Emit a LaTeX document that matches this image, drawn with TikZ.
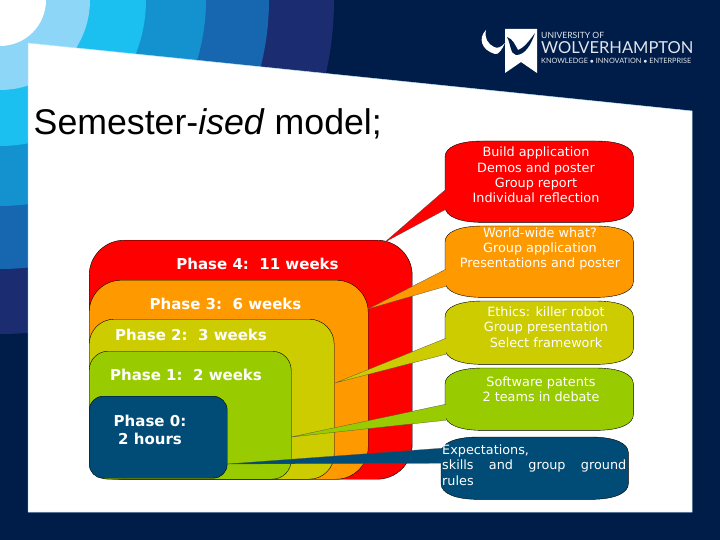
\documentclass[tikz,border=0pt]{standalone}
\usepackage{fontspec}
\setmainfont{Liberation Sans}
\newfontfamily\notefont{DejaVu Sans}
\newfontfamily\logofont{Lato}
\usepackage{tikz}
\definecolor{bgnavy}{RGB}{0, 28, 72}
\definecolor{arcone}{RGB}{141, 214, 247}
\definecolor{arctwo}{RGB}{27, 191, 240}
\definecolor{arcthree}{RGB}{20, 146, 208}
\definecolor{arcfour}{RGB}{22, 102, 176}
\definecolor{arcfive}{RGB}{28, 44, 112}
\definecolor{phasered}{RGB}{255, 0, 0}
\definecolor{phaseorange}{RGB}{255, 153, 0}
\definecolor{phaseolive}{RGB}{204, 204, 0}
\definecolor{phasegreen}{RGB}{153, 204, 0}
\definecolor{phasenavy}{RGB}{0, 76, 118}
\definecolor{logogrey}{RGB}{225, 230, 238}
\tikzset{
  phasebox/.style={draw=black, line width=0.4pt, anchor=north west, inner sep=0pt},
  phaselabel/.style={text=white, align=center, font=\notefont\bfseries\fontsize{15}{18}\selectfont},
  notebox/.style={inner sep=0pt, anchor=north west, minimum width=188pt},
  noteedge/.style={draw=black, line width=0.4pt},
  tailedge/.style={draw=black!70, line width=0.25pt},
  notetext/.style={text=white, align=center, font=\notefont\fontsize{12.8}{15.4}\selectfont},
}
\newcommand{\noteoutline}[2]{%
  \draw[noteedge, fill=#2] ([yshift=-16pt]#1.north west) .. controls ([yshift=-6pt]#1.north west) and ([xshift=14pt]#1.north west) .. ([xshift=38pt]#1.north west)
    -- ([xshift=-38pt]#1.north east) .. controls ([xshift=-14pt]#1.north east) and ([yshift=-6pt]#1.north east) .. ([yshift=-16pt]#1.north east)
    -- ([yshift=16pt]#1.south east) .. controls ([yshift=6pt]#1.south east) and ([xshift=-14pt]#1.south east) .. ([xshift=-38pt]#1.south east)
    -- ([xshift=38pt]#1.south west) .. controls ([xshift=14pt]#1.south west) and ([yshift=6pt]#1.south west) .. ([yshift=16pt]#1.south west) -- cycle;}
\begin{document}
\begin{tikzpicture}[x=1pt, y=-1pt]
  \useasboundingbox (0,0) rectangle (720,540);
  \clip (0,0) rectangle (720,540);
  % Background
  \fill[bgnavy] (0,0) rectangle (720,540);
  \fill[arcfive] (0,0) circle (334);
  \fill[arcfour] (0,0) circle (269);
  \fill[arcthree] (0,0) circle (206);
  \fill[arctwo] (0,0) circle (146);
  \fill[arcone] (0,0) circle (90);
  \fill[white] (0,0) circle (46);
  \fill[white, draw=arcone!60, line width=0.5pt] (28,43) -- (692,111) -- (692,512) -- (28,512) -- cycle;

  % Logo
  \fill[white] (505,29) -- (537,29) -- (537,73) -- (521,62) -- (505,73) -- cycle;
  \fill[bgnavy] (507,37) .. controls (513,39) and (515,45) .. (518,50) .. controls (524,48) and (530,40) .. (535,33) .. controls (531,45) and (525,55) .. (516,55) .. controls (510,54) and (511,44) .. (507,37) -- cycle;
  \fill[white] (486,30) .. controls (478,38) and (481,50) .. (495,54) .. controls (499,55) and (502,49) .. (505,43) .. controls (501,47) and (498,49) .. (494,47) .. controls (488,44) and (484,38) .. (486,30) -- cycle;
  \node[anchor=west, inner sep=0pt, text=logogrey, font=\logofont\fontsize{8.6}{9}\selectfont] (logotop) at (541,35) {UNIVERSITY OF};
  \node[anchor=west, inner sep=0pt, text=logogrey, font=\logofont\fontsize{16.5}{17}\selectfont] (logoname) at (541,48) {WOLVERHAMPTON};
  \node[anchor=west, inner sep=0pt, text=logogrey, font=\logofont\fontsize{7.3}{8}\selectfont] (logomotto) at (541,60.5) {KNOWLEDGE $\bullet$ INNOVATION $\bullet$ ENTERPRISE};

  % Title
  \node[anchor=base west, inner sep=0pt, font=\fontsize{35.7}{36}\selectfont] (title) at (33.5,135) {Semester-\textit{ised} model;};

  % Nested phases
  \node[phasebox, fill=phasered, rounded corners=35pt, minimum width=323pt, minimum height=239pt] (phase4) at (89,240) {};
  \node[phasebox, fill=phaseorange, rounded corners=32pt, minimum width=279pt, minimum height=199pt] (phase3) at (89,280) {};
  \node[phasebox, fill=phaseolive, rounded corners=25pt, minimum width=245pt, minimum height=160pt] (phase2) at (89,319) {};
  \node[phasebox, fill=phasegreen, rounded corners=19pt, minimum width=202pt, minimum height=128pt] (phase1) at (89,351) {};
  \node[phasebox, fill=phasenavy, rounded corners=14pt, minimum width=138pt, minimum height=82pt] (phase0) at (89,396) {};
  \node[phaselabel] (label4) at (257.5,264) {Phase 4:\ \ 11 weeks};
  \node[phaselabel] (label3) at (225.5,303.5) {Phase 3:\ \ 6 weeks};
  \node[phaselabel] (label2) at (191,335) {Phase 2:\ \ 3 weeks};
  \node[phaselabel] (label1) at (186,375) {Phase 1:\ \ 2 weeks};
  \node[phaselabel] (label0) at (150,430) {Phase 0:\\2 hours};

  % Notes
  \node[notebox, minimum height=81pt] (note4) at (445,141) {};
  \node[notebox, minimum height=71pt] (note3) at (445,226) {};
  \node[notebox, minimum height=63pt] (note2) at (445,301) {};
  \node[notebox, minimum height=62pt] (note1) at (445,368) {};
  \node[notebox, minimum width=187pt, minimum height=62pt] (note0) at (441,437) {};
  \noteoutline{note4}{phasered}
  \noteoutline{note3}{phaseorange}
  \noteoutline{note2}{phaseolive}
  \noteoutline{note1}{phasegreen}
  \noteoutline{note0}{phasenavy}

  % Tails
  \coordinate (tip4) at (385,242);
  \coordinate (tip3) at (368,309);
  \coordinate (tip2) at (335,383);
  \coordinate (tip1) at (291,437);
  \coordinate (tip0) at (227,464);
  \draw[tailedge, fill=phasered] ([shift={(1pt,-7.5pt)}]note4.west) -- (tip4) -- ([shift={(1pt,-27.5pt)}]note4.west);
  \draw[tailedge, fill=phaseorange] ([shift={(1pt,-7.5pt)}]note3.west) -- (tip3) -- ([shift={(1pt,-24.5pt)}]note3.west);
  \draw[tailedge, fill=phaseolive] ([shift={(1pt,-5.5pt)}]note2.west) -- (tip2) -- ([shift={(1pt,-21.5pt)}]note2.west);
  \draw[tailedge, fill=phasegreen] ([shift={(1pt,-5pt)}]note1.west) -- (tip1) -- ([shift={(1pt,-21pt)}]note1.west);
  \draw[tailedge, fill=phasenavy] ([shift={(1pt,20pt)}]note0.west) -- (tip0) -- ([shift={(1pt,5pt)}]note0.west);

  % Note texts
  \node[notetext] (text4) at (536,175) {Build application\\Demos and poster\\Group report\\Individual reflection};
  \node[notetext] (text3) at (540,249) {World-wide what?\\Group application\\Presentations and poster};
  \node[notetext] (text2) at (546,327) {Ethics: killer robot\\Group presentation\\Select framework};
  \node[notetext] (text1) at (541,389.5) {Software patents\\2 teams in debate};
  \node[notetext, text width=184pt, align=left, anchor=west, inner sep=0pt] (text0) at (442,465) {Expectations,\\\leavevmode\hbox to 184pt{skills\hfill and\hfill group\hfill ground}\\rules};
\end{tikzpicture}
\end{document}
